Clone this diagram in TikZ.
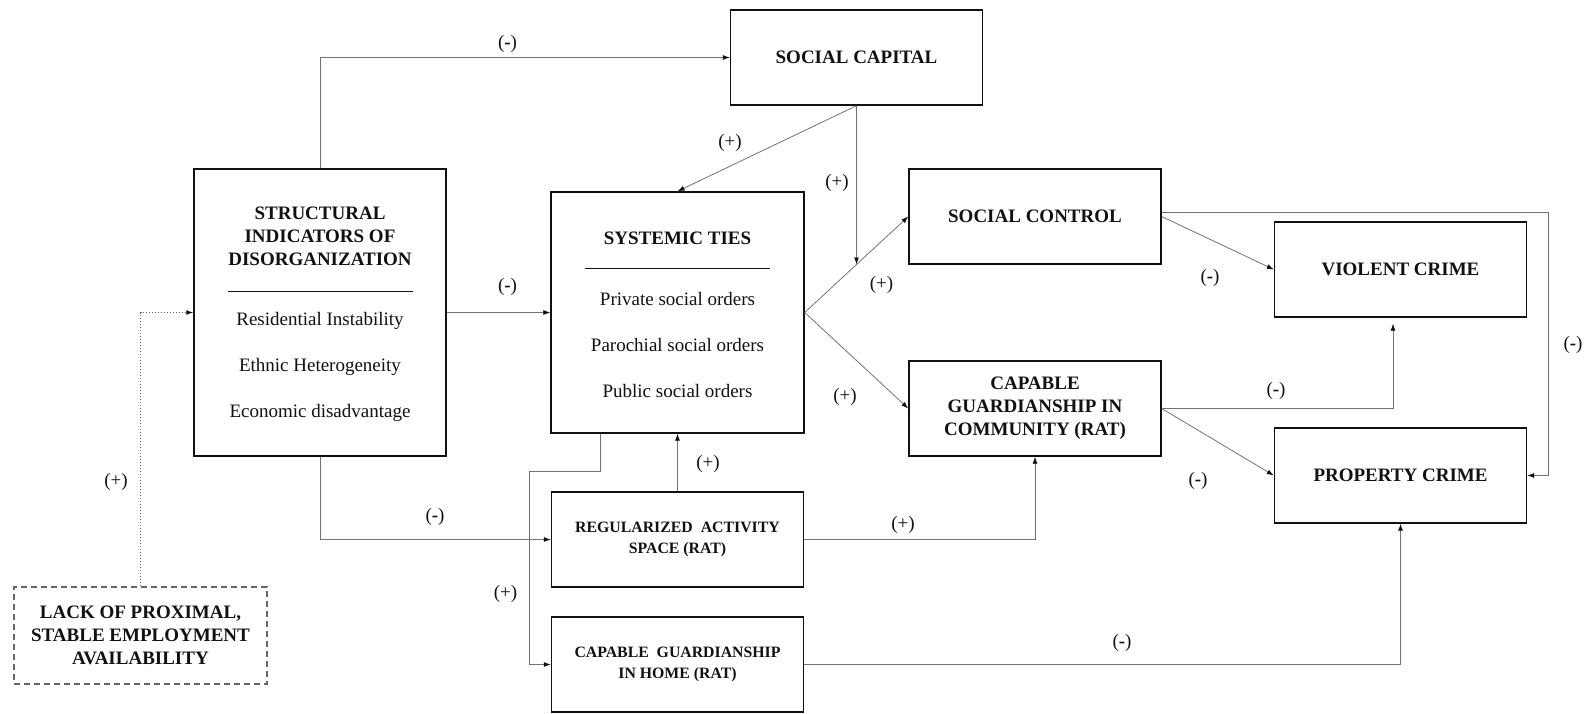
\documentclass[tikz,border=0pt]{standalone}
\usepackage{fontspec}
\setmainfont{Liberation Serif}
\usetikzlibrary{arrows.meta,positioning,calc,intersections}
\definecolor{ink}{HTML}{111111}
\definecolor{wire}{HTML}{737373}
\definecolor{dashedge}{HTML}{666666}

\begin{document}
\begin{tikzpicture}[
  x=1pt, y=-1pt,
  >={Latex[length=7pt,width=5pt,color=ink]},
  flow/.style={->, draw=wire, line width=.8pt},
  box/.style={draw=ink, line width=1.4pt, minimum width=252pt,
              minimum height=95pt, align=center, inner sep=2pt, text=ink,
              font=\bfseries\fontsize{19}{23}\selectfont},
  ratbox/.style={box, font=\bfseries\fontsize{15.8}{21}\selectfont},
  head/.style={font=\bfseries\fontsize{19}{23}\selectfont, align=center, text=ink},
  items/.style={font=\fontsize{19}{46}\selectfont, align=center, text=ink},
  sign/.style={font=\fontsize{19}{23}\selectfont, text=ink, inner sep=0pt}
]
\useasboundingbox (0,0) rectangle (1585,713);

% Upper row and the two large boxes.
\node[box] (cap) at (856.5,57.5) {SOCIAL CAPITAL};
\node[box, minimum height=287pt] (struct) at (320,312.5) {};
\node[box, minimum width=253pt, minimum height=241pt] (sys) at (677.5,312.5) {};

\node[head] (structhead) at (320,236) {STRUCTURAL\\INDICATORS OF\\DISORGANIZATION};
\draw[ink, line width=1.2pt] ($(struct.north)+(-92,123)$) -- ++(185,0);
\node[items] (structlist) at (320,367)
      {Residential Instability\\Ethnic Heterogeneity\\Economic disadvantage};

\node[head] (syshead) at (677.5,238) {SYSTEMIC TIES};
\draw[ink, line width=1.2pt] ($(sys.north)+(-92.5,77)$) -- ++(185,0);
\node[items] (syslist) at (677.5,345)
      {Private social orders\\Parochial social orders\\Public social orders};

% Control, guardianship and crime outcomes.
\node[box] (ctrl) at (1035,216.5) {SOCIAL CONTROL};
\node[box] (comm) at (1035,408.5) {CAPABLE\\GUARDIANSHIP IN\\COMMUNITY (RAT)};
\node[box] (viol) at (1400.5,269.5) {VIOLENT CRIME};
\node[box] (prop) at (1400.5,475.5) {PROPERTY CRIME};

% Routine activity boxes and the employment box.
\node[ratbox] (reg) at (677.5,539.5) {REGULARIZED\ \ ACTIVITY\\SPACE (RAT)};
\node[ratbox] (home) at (677.5,664.5) {CAPABLE\ \ GUARDIANSHIP\\IN HOME (RAT)};
\node[box, draw=dashedge, dash pattern=on 6pt off 4pt, minimum width=253pt,
      minimum height=97pt] (lack) at (140.5,635.5)
      {LACK OF PROXIMAL,\\STABLE EMPLOYMENT\\AVAILABILITY};

% Paths.
\draw[flow] (struct.north) |- (cap.west);
\draw[flow] (cap.south) -- (sys.north);
\path[name path=upper] (sys.east) -- (ctrl.west);
\path[name path=drop] (cap.south) -- ++(0,300);
\draw[flow, name intersections={of=upper and drop}] (cap.south) -- (intersection-1);
\draw[flow] (struct.east) -- (sys.west);
\draw[flow] (sys.east) -- (ctrl.west);
\draw[flow] (sys.east) -- (comm.west);
\draw[flow] (ctrl.east) -- (viol.west);
\draw[flow] ([yshift=4.5pt]ctrl.east) -| ([xshift=21pt]prop.east) -- (prop.east);
\draw[flow, shorten >=6pt] (comm.east) -| ([xshift=-7.5pt]viol.south);
\draw[flow] (comm.east) -- (prop.west);
\draw[flow] (struct.south) |- (reg.west);
\draw[flow] (reg.north) -- (sys.south);
\draw[flow] (reg.east) -| (comm.south);
\draw[flow] ([xshift=-77.5pt]sys.south) -- ++(0,38) -| ([xshift=-21pt]home.west) -- (home.west);
\draw[flow] (home.east) -| (prop.south);
\draw[flow, draw=dashedge, dash pattern=on 1.5pt off 1.5pt, line width=1pt]
     (lack.north) |- (struct.west);

% Signs.
\node[sign] (s1) at (507.5,43.5) {(\textbf{-})};
\node[sign] (s2) at (730,142.5) {(+)};
\node[sign] (s3) at (837,183) {(+)};
\node[sign] (s4) at (507.5,287) {(\textbf{-})};
\node[sign] (s5) at (881.5,285) {(+)};
\node[sign] (s6) at (845,397) {(+)};
\node[sign] (s7) at (1210,278) {(\textbf{-})};
\node[sign] (s8) at (1573,345) {(\textbf{-})};
\node[sign] (s9) at (1276,391) {(\textbf{-})};
\node[sign] (s10) at (1198,481) {(\textbf{-})};
\node[sign] (s11) at (435,516.5) {(\textbf{-})};
\node[sign] (s12) at (708,464) {(+)};
\node[sign] (s13) at (903,525) {(+)};
\node[sign] (s14) at (505.5,593.5) {(+)};
\node[sign] (s15) at (1122,643) {(\textbf{-})};
\node[sign] (s16) at (116,482) {(+)};

\end{tikzpicture}
\end{document}
